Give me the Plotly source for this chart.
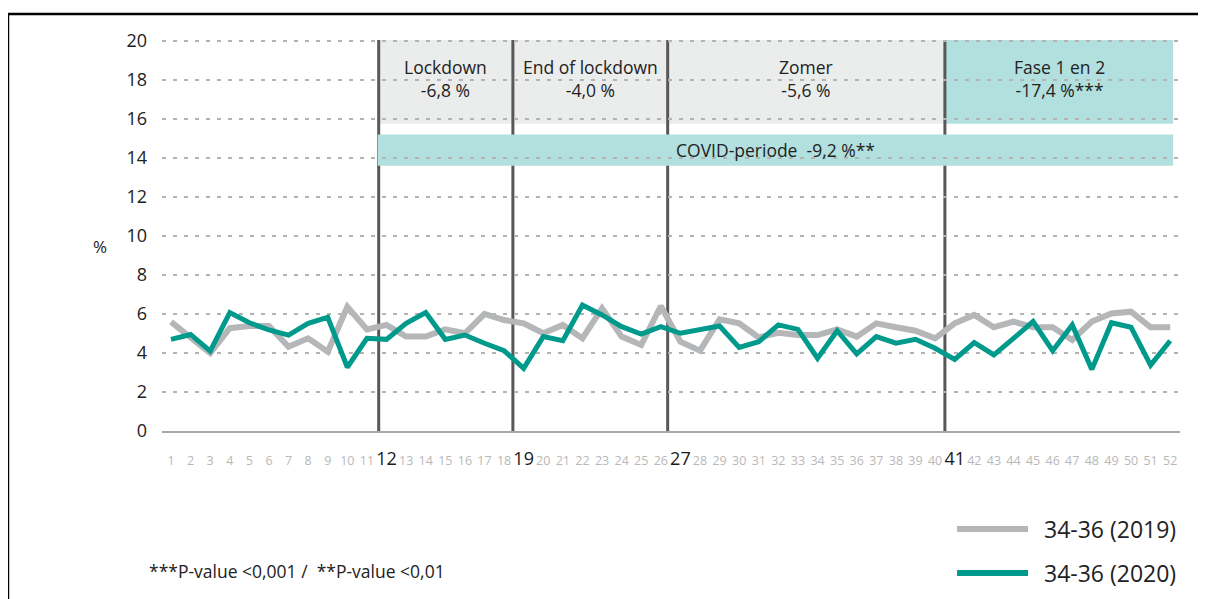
import plotly.graph_objects as go

weeks = list(range(1, 53))
values_2019 = [5.6, 4.75, 4.0, 5.27, 5.38, 5.38, 4.32, 4.75, 4.07, 6.37,
               5.21, 5.44, 4.84, 4.84, 5.21, 5.01, 6.0, 5.69, 5.52, 5.01,
               5.44, 4.75, 6.29, 4.84, 4.41, 6.41, 4.58, 4.12, 5.73, 5.52,
               4.80, 5.04, 4.92, 4.92, 5.21, 4.84, 5.52, 5.32, 5.14, 4.75,
               5.52, 5.95, 5.32, 5.61, 5.32, 5.32, 4.67, 5.61, 6.03, 6.12,
               5.32, 5.32]
values_2020 = [4.7, 4.95, 4.1, 6.07, 5.55, 5.18, 4.92, 5.52, 5.83, 3.27,
               4.75, 4.70, 5.52, 6.07, 4.70, 4.92, 4.5, 4.12, 3.21, 4.84,
               4.63, 6.46, 5.95, 5.35, 4.97, 5.35, 5.01, 5.18, 5.38, 4.29,
               4.58, 5.44, 5.21, 3.73, 5.14, 3.95, 4.84, 4.50, 4.70, 4.24,
               3.67, 4.53, 3.90, 4.75, 5.61, 4.12, 5.44, 3.16, 5.55, 5.32,
               3.38, 4.63]
series_names = ["34-36 (2019)", "34-36 (2020)"]
highlight_weeks = [12, 19, 27, 41]
period_bounds = [11.6, 18.45, 26.35, 40.5, 52.15]
period_labels = ["Lockdown<br>-6,8 %", "End of lockdown<br>-4,0 %",
                 "Zomer<br>-5,6 %", "Fase 1 en 2<br>-17,4 %***"]
covid_label = "COVID-periode  -9,2 %**"
y_ticks = list(range(0, 21, 2))

GRAY = "#b5b6b8"
GREEN = "#009a8c"
BOX_GRAY = "#ebecec"
BOX_TEAL = "#b2e0df"
FONT = "Open Sans, Noto Sans, sans-serif"

ticktext = []
for w in weeks:
    if w in highlight_weeks:
        ticktext.append(f'<span style="font-size:18px;color:#1a1a1a">{w}</span>')
    else:
        ticktext.append(str(w))

colors = [GRAY, GREEN]
widths = [6, 5]
series = [values_2019, values_2020]

fig = go.Figure()
for name, vals, c, w in zip(series_names, series, colors, widths):
    fig.add_trace(go.Scatter(x=weeks, y=vals, mode="lines", name=name,
                             line=dict(color=c, width=w), showlegend=False))

shapes = []
for i in range(4):
    shapes.append(dict(type="rect", xref="x", yref="y", layer="below",
                       x0=period_bounds[i], x1=period_bounds[i + 1], y0=15.75, y1=20.05,
                       fillcolor=BOX_TEAL if i == 3 else BOX_GRAY, line=dict(width=0)))
for b in period_bounds[:4]:
    shapes.append(dict(type="line", xref="x", yref="y", layer="below",
                       x0=b, x1=b, y0=0, y1=20.05, line=dict(color="#58585a", width=3)))
shapes.append(dict(type="rect", xref="x", yref="y", layer="below",
                   x0=period_bounds[0] - 0.05, x1=period_bounds[-1], y0=13.6, y1=15.2,
                   fillcolor=BOX_TEAL, line=dict(width=0)))
shapes.append(dict(type="line", xref="paper", yref="paper", x0=-0.1513, x1=1.03,
                   y0=1.0638, y1=1.0638, line=dict(color="black", width=2.5)))
shapes.append(dict(type="line", xref="paper", yref="paper", x0=-0.1513, x1=-0.1513,
                   y0=1.0638, y1=-0.45, line=dict(color="black", width=2.5)))

annotations = []
for i in range(4):
    annotations.append(dict(x=(period_bounds[i] + period_bounds[i + 1]) / 2, y=18.05,
                            xref="x", yref="y", text=period_labels[i], showarrow=False,
                            font=dict(family=FONT, size=17.5, color="#222")))
annotations.append(dict(x=(period_bounds[0] + period_bounds[-1]) / 2, y=14.4,
                        xref="x", yref="y", text=covid_label, showarrow=False,
                        font=dict(family=FONT, size=17.5, color="#222")))
annotations.append(dict(x=-0.0609, y=0.47, xref="paper", yref="paper", text="%",
                        xanchor="center", yanchor="middle",
                        showarrow=False, font=dict(family=FONT, size=17, color="#222")))
annotations.append(dict(x=-0.0147, y=-0.357, xref="paper", yref="paper", xanchor="left",
                        yanchor="middle",
                        text="***P-value <0,001 /  **P-value <0,01", showarrow=False,
                        font=dict(family=FONT, size=17.5, color="#222")))

# legend (drawn as keys + labels below the plot)
legend_y = [-0.25, -0.3622]
for name, c, ly in zip(series_names, colors, legend_y):
    shapes.append(dict(type="line", xref="paper", yref="paper", x0=0.781, x1=0.8507,
                       y0=ly, y1=ly, line=dict(color=c, width=6)))
    annotations.append(dict(x=0.8644, y=ly, xref="paper", yref="paper", xanchor="left",
                            yanchor="middle", text=name, showarrow=False,
                            font=dict(family=FONT, size=23, color="#222")))

fig.update_layout(
    width=1198, height=591,
    margin=dict(l=154, r=26, t=31, b=168),
    paper_bgcolor="white", plot_bgcolor="white",
    font=dict(family=FONT),
    shapes=shapes, annotations=annotations,
    showlegend=False,
    xaxis=dict(range=[0.54, 52.5], tickmode="array", tickvals=weeks, ticktext=ticktext,
               tickfont=dict(family=FONT, size=12.5, color="#b8b8b8"), showgrid=False,
               zeroline=False, showline=True, linecolor="#a8a8a8", linewidth=1.5,
               ticks="", ticklabelstandoff=17, fixedrange=True),
    yaxis=dict(range=[0, 20.1], tickmode="array", tickvals=y_ticks,
               tickfont=dict(family=FONT, size=18, color="#222"),
               showgrid=True, gridcolor="#b3b3b3", gridwidth=1.5, griddash="4px,7px",
               zeroline=False, ticks="", ticklabelstandoff=14, fixedrange=True),
)

fig.write_html("out.html")
